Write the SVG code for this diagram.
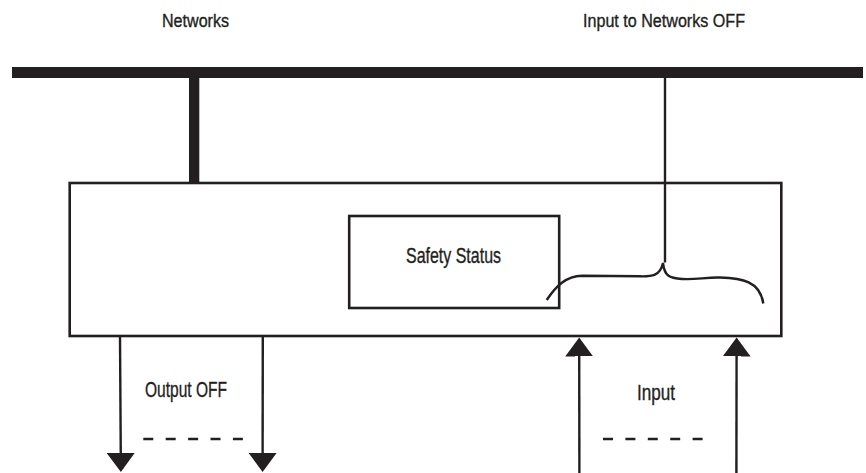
<svg xmlns="http://www.w3.org/2000/svg" width="866" height="473" viewBox="0 0 866 473">
<style>
.lbl{font-family:"Liberation Sans Narrow","Liberation Sans",Arial,sans-serif;fill:#231f20;stroke:#231f20;stroke-width:0.35}
.box{fill:#ffffff;stroke:#231f20;stroke-width:2.6}
.wire{fill:none;stroke:#231f20;stroke-width:2.4}
.dash{fill:none;stroke:#231f20;stroke-width:2.3;stroke-dasharray:10 12.4}
.bar{fill:#231f20}
</style>
<defs>
<marker id="head" markerUnits="userSpaceOnUse" viewBox="0 0 19 28" refX="7" refY="14" markerWidth="19" markerHeight="28" orient="auto">
<path d="M0,0 L19,14 L0,28 Z" fill="#231f20"/>
</marker>
</defs>
<rect width="866" height="473" fill="#ffffff"/>
<g id="labels">
<text class="lbl" x="162" y="27.3" font-size="18" textLength="67" lengthAdjust="spacingAndGlyphs">Networks</text>
<text class="lbl" x="583" y="27.3" font-size="18" textLength="162" lengthAdjust="spacingAndGlyphs">Input to Networks OFF</text>
</g>
<g id="network-bus">
<rect class="bar" x="12" y="67" width="851" height="11"/>
</g>
<g id="controller">
<rect class="box" x="69.7" y="183" width="711.6" height="153"/>
</g>
<g id="safety-status">
<rect class="box" x="349.2" y="216" width="210" height="92"/>
<text class="lbl" x="406" y="262.5" font-size="22" textLength="95" lengthAdjust="spacingAndGlyphs">Safety Status</text>
</g>
<g id="connectors">
<rect class="bar" x="189" y="78" width="10.3" height="104"/>
<line class="wire" x1="665" y1="78" x2="665" y2="262.5"/>
<path class="wire" d="M546.7,300 C556,286 566,276 582,275.7 L640,276.3 C652,276.6 660,276 663,263 C664.5,276 669,278 682,279 C696,280 706,277 720,277.5 C742,278.3 760,281 763.3,303.5"/>
<line class="wire" x1="120" y1="336" x2="120.8" y2="460" marker-end="url(#head)"/>
<line class="wire" x1="262.8" y1="336" x2="262.6" y2="460" marker-end="url(#head)"/>
<line class="wire" x1="579.4" y1="473" x2="579.2" y2="349.5" marker-end="url(#head)"/>
<line class="wire" x1="736.4" y1="473" x2="736.6" y2="349.5" marker-end="url(#head)"/>
<line class="dash" x1="143.3" y1="439" x2="243" y2="439"/>
<line class="dash" x1="603" y1="439" x2="703" y2="439"/>
</g>
<g id="io-labels">
<text class="lbl" x="145" y="397" font-size="22" textLength="82" lengthAdjust="spacingAndGlyphs">Output OFF</text>
<text class="lbl" x="637" y="400" font-size="22" textLength="38" lengthAdjust="spacingAndGlyphs">Input</text>
</g>
</svg>
